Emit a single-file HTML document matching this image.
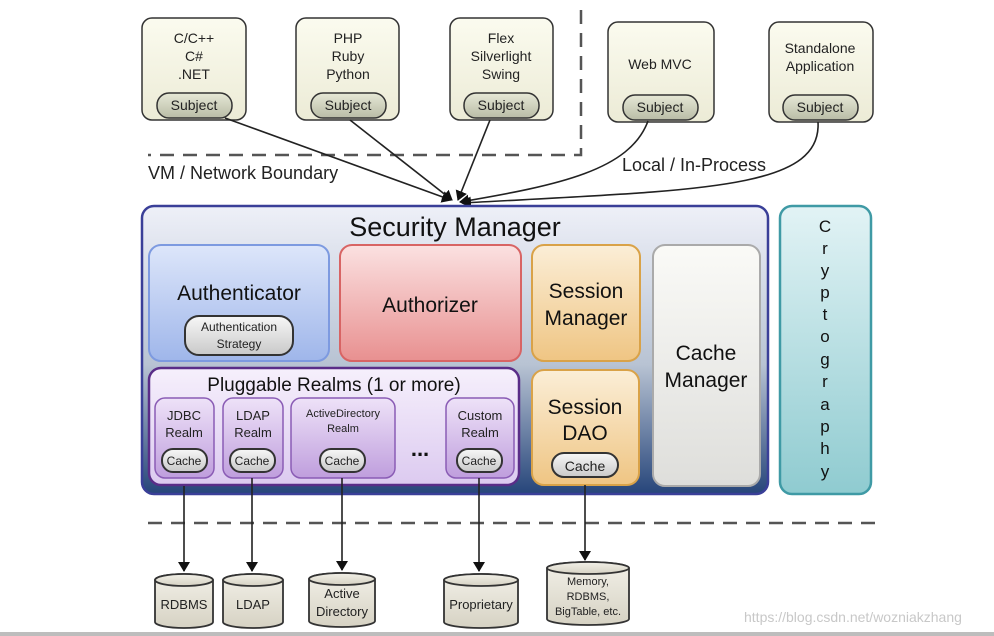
<!DOCTYPE html>
<html><head><meta charset="utf-8"><style>
html,body{margin:0;padding:0;background:#fff;}
svg{display:block;font-family:"Liberation Sans",sans-serif;}
</style></head><body>
<svg width="994" height="636" viewBox="0 0 994 636" xmlns="http://www.w3.org/2000/svg">
<defs>
<linearGradient id="cl" x1="0" y1="0" x2="0" y2="1"><stop offset="0" stop-color="#fbfbef"/><stop offset="1" stop-color="#ecebd6"/></linearGradient>
<linearGradient id="sub" x1="0" y1="0" x2="0" y2="1"><stop offset="0" stop-color="#e6e8d6"/><stop offset="1" stop-color="#b9bca6"/></linearGradient>
<linearGradient id="sm" x1="0" y1="0" x2="0" y2="1"><stop offset="0" stop-color="#eef0f8"/><stop offset="0.55" stop-color="#b8c3d3"/><stop offset="1" stop-color="#26457a"/></linearGradient>
<linearGradient id="au" x1="0" y1="0" x2="0" y2="1"><stop offset="0" stop-color="#dde6fa"/><stop offset="1" stop-color="#9fb6ea"/></linearGradient>
<linearGradient id="az" x1="0" y1="0" x2="0" y2="1"><stop offset="0" stop-color="#fbe1e1"/><stop offset="1" stop-color="#e89090"/></linearGradient>
<linearGradient id="se" x1="0" y1="0" x2="0" y2="1"><stop offset="0" stop-color="#fbeed7"/><stop offset="1" stop-color="#efc583"/></linearGradient>
<linearGradient id="ca" x1="0" y1="0" x2="0" y2="1"><stop offset="0" stop-color="#fafaf7"/><stop offset="1" stop-color="#dededb"/></linearGradient>
<linearGradient id="pr" x1="0" y1="0" x2="0" y2="1"><stop offset="0" stop-color="#f6f0fc"/><stop offset="1" stop-color="#dccaf0"/></linearGradient>
<linearGradient id="rl" x1="0" y1="0" x2="0" y2="1"><stop offset="0" stop-color="#eee2f8"/><stop offset="1" stop-color="#bf9edd"/></linearGradient>
<linearGradient id="cr" x1="0" y1="0" x2="0" y2="1"><stop offset="0" stop-color="#e2f3f5"/><stop offset="1" stop-color="#8fcbd0"/></linearGradient>
<linearGradient id="pill" x1="0" y1="0" x2="0" y2="1"><stop offset="0" stop-color="#f7f7f7"/><stop offset="1" stop-color="#c9c9c9"/></linearGradient>
<linearGradient id="db" x1="0" y1="0" x2="0" y2="1"><stop offset="0" stop-color="#f2f0e8"/><stop offset="1" stop-color="#d6d2c3"/></linearGradient>
<marker id="ah" markerWidth="10" markerHeight="12" refX="9" refY="6" orient="auto" markerUnits="userSpaceOnUse"><path d="M0,0 L10,6 L0,12 z" fill="#111"/></marker>
</defs>

<path d="M581,10 V155 H148" fill="none" stroke="#555" stroke-width="2.5" stroke-dasharray="14,9"/>
<text x="148" y="179" font-size="18" fill="#222">VM / Network Boundary</text>
<text x="622" y="171" font-size="18" fill="#222">Local / In-Process</text>

<g stroke="#333" stroke-width="1.5">
<rect x="142" y="18" width="104" height="102" rx="10" fill="url(#cl)"/>
<rect x="296" y="18" width="103" height="102" rx="10" fill="url(#cl)"/>
<rect x="450" y="18" width="103" height="102" rx="10" fill="url(#cl)"/>
<rect x="608" y="22" width="106" height="100" rx="10" fill="url(#cl)"/>
<rect x="769" y="22" width="104" height="100" rx="10" fill="url(#cl)"/>
<rect x="157" y="93" width="75" height="25" rx="12" fill="url(#sub)"/>
<rect x="311" y="93" width="75" height="25" rx="12" fill="url(#sub)"/>
<rect x="464" y="93" width="75" height="25" rx="12" fill="url(#sub)"/>
<rect x="623" y="95" width="75" height="25" rx="12" fill="url(#sub)"/>
<rect x="783" y="95" width="75" height="25" rx="12" fill="url(#sub)"/>
</g>
<g font-size="14" fill="#222" text-anchor="middle">
<text x="194" y="43">C/C++</text><text x="194" y="61">C#</text><text x="194" y="79">.NET</text>
<text x="348" y="43">PHP</text><text x="348" y="61">Ruby</text><text x="348" y="79">Python</text>
<text x="501" y="43">Flex</text><text x="501" y="61">Silverlight</text><text x="501" y="79">Swing</text>
<text x="660" y="69">Web MVC</text>
<text x="820" y="53">Standalone</text><text x="820" y="71">Application</text>
<text x="194" y="110">Subject</text><text x="348" y="110">Subject</text><text x="501" y="110">Subject</text>
<text x="660" y="112">Subject</text><text x="820" y="112">Subject</text>
</g>

<g stroke="#222" stroke-width="1.6" fill="none" marker-end="url(#ah)">
<path d="M225,118 L451,200"/>
<path d="M350,120 L452,200"/>
<path d="M490,120 L458,200"/>
<path d="M648,121 C630,170 560,185 460,202"/>
<path d="M818,122 C822,190 700,190 462,203"/>
</g>

<!-- Security Manager -->
<rect x="142" y="206" width="626" height="288" rx="12" fill="url(#sm)" stroke="#3a3f98" stroke-width="2.5"/>
<text x="455" y="236" font-size="27" fill="#111" text-anchor="middle">Security Manager</text>

<rect x="149" y="245" width="180" height="116" rx="12" fill="url(#au)" stroke="#7d9ae0" stroke-width="2"/>
<text x="239" y="300" font-size="21" fill="#111" text-anchor="middle">Authenticator</text>
<rect x="185" y="316" width="108" height="39" rx="14" fill="url(#pill)" stroke="#333" stroke-width="2"/>
<text x="239" y="331" font-size="12" fill="#222" text-anchor="middle">Authentication</text>
<text x="239" y="348" font-size="12" fill="#222" text-anchor="middle">Strategy</text>

<rect x="340" y="245" width="181" height="116" rx="12" fill="url(#az)" stroke="#d86464" stroke-width="2"/>
<text x="430" y="312" font-size="21" fill="#111" text-anchor="middle">Authorizer</text>

<rect x="532" y="245" width="108" height="116" rx="12" fill="url(#se)" stroke="#d9a248" stroke-width="2"/>
<text x="586" y="298" font-size="21" fill="#111" text-anchor="middle">Session</text>
<text x="586" y="325" font-size="21" fill="#111" text-anchor="middle">Manager</text>

<rect x="653" y="245" width="107" height="241" rx="12" fill="url(#ca)" stroke="#aaa" stroke-width="2"/>
<text x="706" y="360" font-size="21" fill="#111" text-anchor="middle">Cache</text>
<text x="706" y="387" font-size="21" fill="#111" text-anchor="middle">Manager</text>

<rect x="532" y="370" width="107" height="115" rx="12" fill="url(#se)" stroke="#d9a248" stroke-width="2"/>
<text x="585" y="414" font-size="21" fill="#111" text-anchor="middle">Session</text>
<text x="585" y="440" font-size="21" fill="#111" text-anchor="middle">DAO</text>
<rect x="552" y="453" width="66" height="24" rx="12" fill="url(#pill)" stroke="#333" stroke-width="2"/>
<text x="585" y="471" font-size="14" fill="#222" text-anchor="middle">Cache</text>

<rect x="149" y="368" width="370" height="117" rx="12" fill="url(#pr)" stroke="#5a2d88" stroke-width="2.5"/>
<text x="334" y="391" font-size="19" fill="#111" text-anchor="middle">Pluggable Realms (1 or more)</text>
<g stroke="#8a5cb5" stroke-width="1.5" fill="url(#rl)">
<rect x="155" y="398" width="59" height="80" rx="10"/>
<rect x="223" y="398" width="60" height="80" rx="10"/>
<rect x="291" y="398" width="104" height="80" rx="10"/>
<rect x="446" y="398" width="68" height="80" rx="10"/>
</g>
<g font-size="13" fill="#222" text-anchor="middle">
<text x="184" y="420">JDBC</text><text x="184" y="437">Realm</text>
<text x="253" y="420">LDAP</text><text x="253" y="437">Realm</text>
<text x="343" y="417" font-size="11">ActiveDirectory</text><text x="343" y="432" font-size="11">Realm</text>
<text x="480" y="420">Custom</text><text x="480" y="437">Realm</text>
</g>
<g stroke="#333" stroke-width="2" fill="url(#pill)">
<rect x="162" y="449" width="45" height="23" rx="11"/>
<rect x="230" y="449" width="45" height="23" rx="11"/>
<rect x="320" y="449" width="45" height="23" rx="11"/>
<rect x="457" y="449" width="45" height="23" rx="11"/>
</g>
<g font-size="12" fill="#222" text-anchor="middle">
<text x="184" y="465">Cache</text><text x="252" y="465">Cache</text><text x="342" y="465">Cache</text><text x="479" y="465">Cache</text>
</g>
<text x="420" y="456" font-size="22" fill="#111" text-anchor="middle" font-weight="bold">...</text>

<!-- Cryptography -->
<rect x="780" y="206" width="91" height="288" rx="12" fill="url(#cr)" stroke="#3f9aa5" stroke-width="2.5"/>
<g font-size="17" fill="#111" text-anchor="middle">
<text x="825" y="232">C</text><text x="825" y="254">r</text><text x="825" y="276">y</text><text x="825" y="298">p</text><text x="825" y="320">t</text><text x="825" y="342">o</text><text x="825" y="365">g</text><text x="825" y="387">r</text><text x="825" y="410">a</text><text x="825" y="432">p</text><text x="825" y="454">h</text><text x="825" y="477">y</text>
</g>

<!-- bottom -->
<line x1="148" y1="523" x2="877" y2="523" stroke="#555" stroke-width="2.5" stroke-dasharray="14,9"/>
<g stroke="#222" stroke-width="1.6" marker-end="url(#ah)">
<line x1="184" y1="486" x2="184" y2="571"/>
<line x1="252" y1="478" x2="252" y2="571"/>
<line x1="342" y1="478" x2="342" y2="570"/>
<line x1="479" y1="478" x2="479" y2="571"/>
<line x1="585" y1="485" x2="585" y2="560"/>
</g>
<g stroke="#333" stroke-width="1.8" fill="url(#db)">
<path d="M155,580 A29,6 0 0 1 213,580 V622 A29,6 0 0 1 155,622 Z"/><ellipse cx="184" cy="580" rx="29" ry="6"/>
<path d="M223,580 A30,6 0 0 1 283,580 V622 A30,6 0 0 1 223,622 Z"/><ellipse cx="253" cy="580" rx="30" ry="6"/>
<path d="M309,579 A33,6 0 0 1 375,579 V621 A33,6 0 0 1 309,621 Z"/><ellipse cx="342" cy="579" rx="33" ry="6"/>
<path d="M444,580 A37,6 0 0 1 518,580 V622 A37,6 0 0 1 444,622 Z"/><ellipse cx="481" cy="580" rx="37" ry="6"/>
<path d="M547,568 A41,6 0 0 1 629,568 V619 A41,6 0 0 1 547,619 Z"/><ellipse cx="588" cy="568" rx="41" ry="6"/>
</g>
<g font-size="13" fill="#222" text-anchor="middle">
<text x="184" y="609">RDBMS</text>
<text x="253" y="609">LDAP</text>
<text x="342" y="598">Active</text><text x="342" y="616">Directory</text>
<text x="481" y="609">Proprietary</text>
<text x="588" y="585" font-size="11">Memory,</text><text x="588" y="600" font-size="11">RDBMS,</text><text x="588" y="615" font-size="11">BigTable, etc.</text>
</g>
<text x="744" y="622" font-size="14" fill="#c8c8c8">https://blog.csdn.net/wozniakzhang</text>
<rect x="0" y="632" width="994" height="4" fill="#bdbdbd"/>
</svg>
</body></html>
